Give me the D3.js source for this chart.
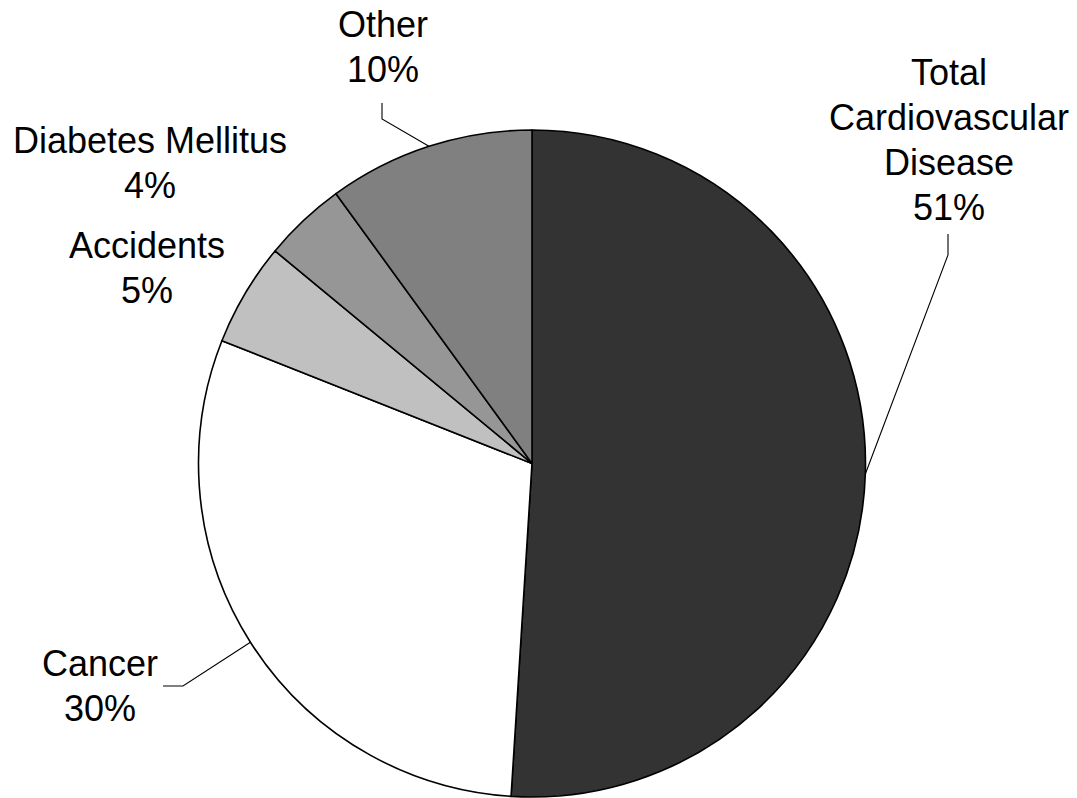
<!DOCTYPE html>
<html>
<head>
<meta charset="utf-8">
<script src="https://cdn.jsdelivr.net/npm/d3@7"></script>
<style>
  html, body { margin: 0; padding: 0; background: #ffffff; }
  svg { display: block; }
  text { font-family: "Liberation Sans", Arial, sans-serif; fill: #000; }
</style>
</head>
<body>
<svg id="chart" width="1077" height="798"></svg>
<script>
// Causes of death, share of total (%)
const categories = ["Total Cardiovascular Disease", "Cancer", "Accidents", "Diabetes Mellitus", "Other"];
const values = [51, 30, 5, 4, 10];
const fills = ["#333333", "#ffffff", "#c0c0c0", "#969696", "#808080"];
const labelLines = [
  ["Total", "Cardiovascular", "Disease", "51%"],
  ["Cancer", "30%"],
  ["Accidents", "5%"],
  ["Diabetes Mellitus", "4%"],
  ["Other", "10%"]
];

// Label placement: text centre x, first baseline y, and the leader elbow/end points
const labelLayout = [
  { x: 949, y: 85,  leader: [[948, 255], [948, 234]] },
  { x: 100, y: 676, leader: [[183, 686], [163, 686]] },
  { x: 147, y: 258, leader: null },
  { x: 150, y: 153, leader: null },
  { x: 383, y: 37,  leader: [[382, 119], [382, 103]] }
];

const cx = 532, cy = 463.5, radius = 333.5;
const fontSize = 36, lineGap = 45;

const svg = d3.select("#chart");
const g = svg.append("g").attr("transform", `translate(${cx},${cy})`);

const pie = d3.pie().sort(null).value(d => d)(values);
const arc = d3.arc().innerRadius(0).outerRadius(radius);

g.selectAll("path.slice")
  .data(pie)
  .join("path")
  .attr("class", "slice")
  .attr("d", arc)
  .attr("fill", (d, i) => fills[i])
  .attr("stroke", "#000")
  .attr("stroke-width", 1.6)
  .attr("stroke-linejoin", "round");

// Leader lines run from the slice's mid-arc point out to the label
const leaderGen = d3.line();
pie.forEach((d, i) => {
  const lay = labelLayout[i];
  if (!lay.leader) return;
  const a = (d.startAngle + d.endAngle) / 2;
  const start = [cx + radius * Math.sin(a), cy - radius * Math.cos(a)];
  svg.append("path")
    .attr("d", leaderGen([start, ...lay.leader]))
    .attr("fill", "none")
    .attr("stroke", "#000")
    .attr("stroke-width", 1.1);
});

// Category and percentage labels
labelLines.forEach((lines, i) => {
  const lay = labelLayout[i];
  const t = svg.append("text")
    .attr("text-anchor", "middle")
    .attr("font-size", fontSize);
  lines.forEach((s, k) => {
    t.append("tspan")
      .attr("x", lay.x)
      .attr("y", lay.y + k * lineGap)
      .text(s);
  });
});
</script>
</body>
</html>
